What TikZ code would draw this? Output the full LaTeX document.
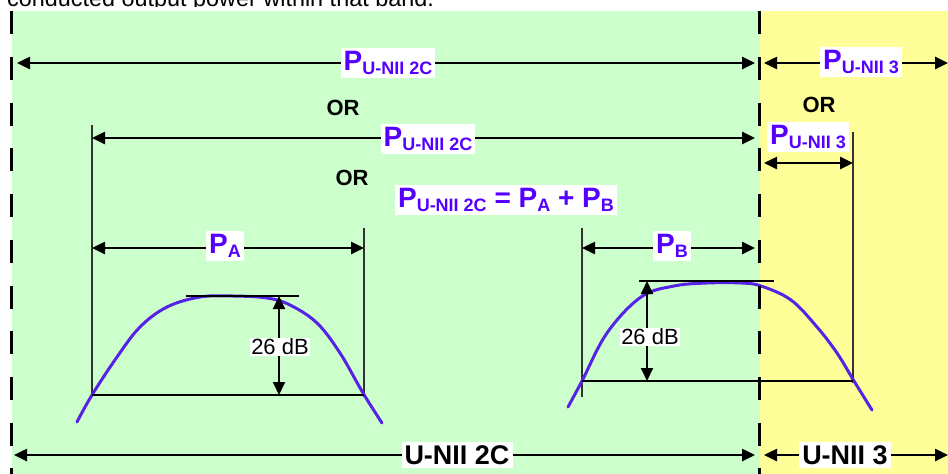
\documentclass[tikz,border=0pt]{standalone}
\usepackage{fontspec}
\setmainfont{Liberation Sans}
\usetikzlibrary{arrows.meta}
\definecolor{bandgreen}{HTML}{CCFFCC}
\definecolor{bandyellow}{HTML}{FFFF99}
\definecolor{lblblue}{HTML}{5500FF}
\definecolor{curveblue}{HTML}{5522E6}
\newcommand{\Psub}[1]{{\fontsize{28}{28}\selectfont P}\raisebox{-4pt}{\fontsize{18}{18}\selectfont #1}}
\newcommand{\Bigsym}[1]{{\fontsize{28}{28}\selectfont #1}}
\begin{document}
\begin{tikzpicture}[x=1pt,y=-1pt,
  tip/.tip={Triangle[length=13pt,width=12pt]},
  dim/.style={line width=2.5pt, tip-tip},
  lbl/.style={fill=white, text=lblblue, font=\bfseries, inner sep=3pt},
  orlbl/.style={font=\fontsize{22}{22}\selectfont\bfseries, inner sep=0pt},
  band/.style={fill=white, font=\fontsize{27}{27}\selectfont\bfseries, inner sep=3pt},
  dblbl/.style={fill=white, font=\fontsize{22}{22}\selectfont, inner sep=1pt},
  guide/.style={line width=1.3pt, draw=black!80},
  level/.style={line width=2pt},
  spectrum/.style={line width=3pt, draw=curveblue},
  divider/.style={line width=3pt, dash pattern=on 23pt off 22.7pt}]
\useasboundingbox (0,0) rectangle (948,474);
\clip (0,0) rectangle (948,474);
% caption remnant
\node[anchor=base west, inner sep=0pt, font=\fontsize{23.4}{24}\selectfont] (cap) at (7,6.7) {conducted output power within that band.};
\fill[white] (0,7) rectangle (948,11.3);
% bands
\fill[bandgreen] (11.5,11.3) rectangle (760,474);
\fill[bandyellow] (760,11.3) rectangle (948,474);
% coordinates
\coordinate (r1a) at (17,63);   \coordinate (r1b) at (755,63);
\coordinate (r1c) at (764,63);  \coordinate (r1d) at (948,63);
\coordinate (r2a) at (92,138);  \coordinate (r2b) at (755,138);
\coordinate (r2c) at (764,163); \coordinate (r2d) at (853,163);
\coordinate (pa1) at (92,248);  \coordinate (pa2) at (364,248);
\coordinate (pb1) at (582,248); \coordinate (pb2) at (755,248);
\coordinate (b1) at (14,455);   \coordinate (b2) at (755,455);
\coordinate (b3) at (764,455);  \coordinate (b4) at (948,455);
\coordinate (v1t) at (92,125);  \coordinate (v1b) at (92,397);
\coordinate (v2t) at (364,228); \coordinate (v2b) at (364,397);
\coordinate (v3t) at (582,228); \coordinate (v3b) at (582,397);
\coordinate (v4t) at (853,132); \coordinate (v4b) at (853,383);
\coordinate (ta1) at (186,296); \coordinate (ta2) at (299,296);
\coordinate (ba1) at (92,395);  \coordinate (ba2) at (364,395);
\coordinate (da1) at (279,296); \coordinate (da2) at (279,395);
\coordinate (tb1) at (639,281); \coordinate (tb2) at (774,281);
\coordinate (bb1) at (582,381); \coordinate (bb2) at (853,381);
\coordinate (db1) at (647,281); \coordinate (db2) at (647,381);
\coordinate (d1t) at (11,11.3); \coordinate (d1b) at (11,474);
\coordinate (d2t) at (759,11.3); \coordinate (d2b) at (759,474);
% guide lines
\draw[guide] (v1t) -- (v1b);
\draw[guide] (v2t) -- (v2b);
\draw[guide] (v3t) -- (v3b);
\draw[guide] (v4t) -- (v4b);
% dimension arrows
\draw[dim] (r1a) -- (r1b);
\draw[dim] (r1c) -- (r1d);
\draw[dim] (r2a) -- (r2b);
\draw[dim] (r2c) -- (r2d);
\draw[dim] (pa1) -- (pa2);
\draw[dim] (pb1) -- (pb2);
\draw[dim] (b1) -- (b2);
\draw[dim] (b3) -- (b4);
% spectra
\draw[spectrum, line cap=round] plot[smooth, tension=0.6] coordinates {(77,422) (92,395) (117,357) (140,327) (167,307) (200,297) (233,296) (267,298) (290,305) (317,323) (340,353) (363,393) (382,423)};
\draw[spectrum, line cap=round] plot[smooth, tension=0.6] coordinates {(568,407) (582,381) (607,333) (641,297) (674,286) (707,283) (741,283) (761,286) (791,300) (817,327) (837,353) (854,381) (872,410)};
% level lines
\draw[level] (ta1) -- (ta2);
\draw[level] (ba1) -- (ba2);
\draw[level] (tb1) -- (tb2);
\draw[level] (bb1) -- (bb2);
\draw[dim, line width=2pt] (da1) -- (da2);
\draw[dim, line width=2pt] (db1) -- (db2);
\node[dblbl] (dba) at (280,347) {26 dB};
\node[dblbl] (dbb) at (650,337) {26 dB};
% labels
\node[lbl] (l1) at (388,63) {\Psub{U-NII 2C}};
\node[lbl] (l2) at (861,62) {\Psub{U-NII 3}};
\node[lbl] (l3) at (428,139) {\Psub{U-NII 2C}};
\node[lbl] (l4) at (808,137) {\Psub{U-NII 3}};
\node[lbl] (eq) at (506,200) {\Psub{U-NII 2C}\Bigsym{\ =\ }\Psub{A}\Bigsym{\ +\ }\Psub{B}};
\node[lbl] (la) at (225,246) {\Psub{A}};
\node[lbl] (lb) at (672,246) {\Psub{B}};
\node[orlbl] (or1) at (343,108) {OR};
\node[orlbl] (or2) at (352,178) {OR};
\node[orlbl] (or3) at (819,105) {OR};
\node[band] (u2c) at (457,455) {U-NII 2C};
\node[band] (u3) at (845,455) {U-NII 3};
% band dividers
\draw[divider] (d1t) -- (d1b);
\draw[divider] (d2t) -- (d2b);
\end{tikzpicture}
\end{document}
